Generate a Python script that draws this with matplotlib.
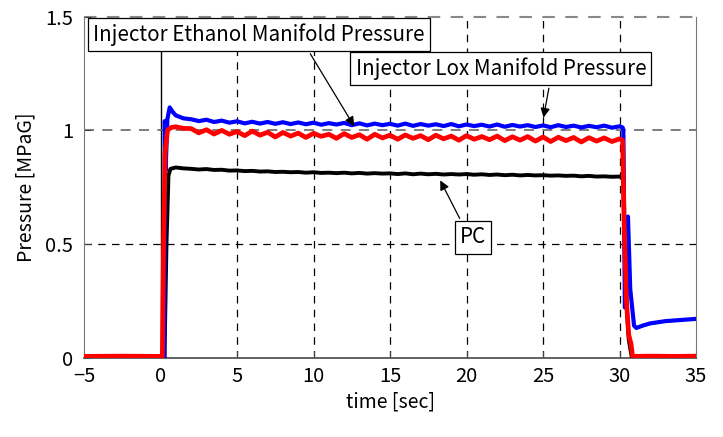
import numpy as np
import matplotlib.pyplot as plt

plt.rcParams['font.family'] = ['Noto Sans CJK JP', 'DejaVu Sans']

# time grid of the steady part (0.5 s sampling)
t_mid = np.arange(2.0, 30.01, 0.5)

# Injector Ethanol Manifold Pressure (blue)
blue_t_start = [-5, -2.5, 0.0, 0.25, 0.28, 0.33, 0.45, 0.6, 0.8, 1.0, 1.5]
blue_start = [0.0, 0.004, 0.0, 0.0, 1.04, 0.82, 1.05, 1.10, 1.08, 1.065, 1.052]
blue_mid = [1.048, 1.040, 1.046, 1.036, 1.042, 1.033, 1.039, 1.030, 1.037, 1.029,
            1.036, 1.028, 1.035, 1.027, 1.034, 1.026, 1.033, 1.024, 1.031, 1.025,
            1.032, 1.022, 1.030, 1.021, 1.029, 1.022, 1.028, 1.020, 1.029, 1.019,
            1.027, 1.020, 1.026, 1.018, 1.027, 1.017, 1.025, 1.018, 1.024, 1.016,
            1.025, 1.015, 1.023, 1.016, 1.022, 1.014, 1.021, 1.013, 1.022, 1.014,
            1.020, 1.012, 1.019, 1.013, 1.020, 1.011, 1.017]
blue_t_end = [30.2, 30.25, 30.35, 30.45, 30.55, 30.7, 30.95, 31.1, 31.5, 32, 33, 34, 35]
blue_end = [1.012, 1.0, 0.22, 0.25, 0.62, 0.30, 0.14, 0.13, 0.14, 0.15, 0.16, 0.165, 0.17]

# Injector Lox Manifold Pressure (red)
red_t_start = [-5, -2.5, 0.0, 0.12, 0.2, 0.3, 0.46, 0.7, 1.0, 1.5]
red_start = [0.005, 0.006, 0.005, 0.005, 0.5, 0.9, 1.0, 1.012, 1.015, 1.008]
red_mid = [1.007, 0.988, 1.002, 0.983, 0.999, 0.982, 0.994, 0.976, 0.996, 0.978,
           0.991, 0.970, 0.990, 0.974, 0.987, 0.968, 0.986, 0.973, 0.982, 0.964,
           0.985, 0.968, 0.980, 0.960, 0.982, 0.966, 0.978, 0.960, 0.979, 0.964,
           0.976, 0.958, 0.978, 0.962, 0.974, 0.956, 0.976, 0.960, 0.972, 0.958,
           0.974, 0.954, 0.971, 0.956, 0.972, 0.952, 0.970, 0.950, 0.969, 0.954,
           0.968, 0.948, 0.967, 0.952, 0.966, 0.950, 0.962]
red_t_end = [30.2, 30.3, 30.45, 30.6, 30.75, 30.85, 32, 33.5, 35]
red_end = [0.955, 0.6, 0.25, 0.1, 0.06, 0.005, 0.006, 0.005, 0.006]

# PC (black)
pc_t_start = [-5, 0.0, 0.26, 0.39, 0.52, 0.65, 1.0, 1.5]
pc_start = [0.0, 0.0, 0.0, 0.5, 0.80, 0.83, 0.836, 0.832]
pc_mid = [0.830, 0.827, 0.829, 0.825, 0.826, 0.822, 0.823, 0.820, 0.821, 0.818,
          0.819, 0.816, 0.817, 0.815, 0.816, 0.813, 0.815, 0.812, 0.813, 0.811,
          0.813, 0.810, 0.812, 0.809, 0.811, 0.809, 0.810, 0.807, 0.810, 0.806,
          0.809, 0.806, 0.808, 0.805, 0.807, 0.805, 0.807, 0.804, 0.806, 0.803,
          0.805, 0.802, 0.804, 0.801, 0.803, 0.801, 0.802, 0.800, 0.801, 0.799,
          0.800, 0.797, 0.799, 0.796, 0.797, 0.795, 0.796]
pc_t_end = [30.25, 30.3, 30.4, 30.6, 30.8, 35]
pc_end = [0.79, 0.6, 0.3, 0.08, 0.0, 0.0]

x_ticks = [-5, 0, 5, 10, 15, 20, 25, 30, 35]
y_ticks = [0, 0.5, 1, 1.5]
y_tick_labels = ['0', '0.5', '1', '1.5']

fig = plt.figure(figsize=(7.23, 4.37), dpi=100)
ax = fig.add_axes([0.1162, 0.1819, 0.8465, 0.7803])

# grid
for xv in x_ticks[2:-1]:
    ax.axvline(xv, color='black', lw=0.9, ls=(0, (6, 5)), zorder=1)
ax.axvline(0, color='black', lw=1.0, zorder=1)
ax.axhline(0.5, color='black', lw=0.9, ls=(0, (6, 5)), zorder=1)
ax.axhline(1.0, color='#666666', lw=1.2, ls=(0, (6, 5)), zorder=1)
ax.axhline(1.5, color='#888888', lw=1.5, ls=(0, (6, 5)), zorder=1, clip_on=False)

ax.plot(pc_t_start + list(t_mid) + pc_t_end, pc_start + pc_mid + pc_end,
        color='black', lw=2.8, zorder=3)
ax.plot(blue_t_start + list(t_mid) + blue_t_end, blue_start + blue_mid + blue_end,
        color='blue', lw=3.0, zorder=4)
ax.plot(red_t_start + list(t_mid) + red_t_end, red_start + red_mid + red_end,
        color='red', lw=3.4, zorder=5)

ax.set_xlim(-5, 35)
ax.set_ylim(0, 1.5)
ax.set_xticks(x_ticks)
ax.set_yticks(y_ticks)
ax.set_yticklabels(y_tick_labels)
ax.tick_params(direction='in', labelsize=14.5, length=5, color='#444444')
ax.tick_params(axis='x', pad=6)
ax.tick_params(axis='y', pad=8)
for s in ['left', 'right', 'bottom']:
    ax.spines[s].set_color('#777777')
ax.spines['bottom'].set_color('#555555')
ax.spines['bottom'].set_linewidth(1.3)
ax.spines['top'].set_visible(False)

ax.set_xlabel('time [sec]', fontsize=14, labelpad=3)
ax.set_ylabel('Pressure [MPaG]', fontsize=14, labelpad=6)

box = dict(boxstyle='square,pad=0.25', fc='white', ec='black', lw=0.9)
arrow = dict(arrowstyle='-|>', color='black', lw=0.9, mutation_scale=14)

ax.annotate('Injector Ethanol Manifold Pressure', xy=(12.75, 1.007), xytext=(6.44, 1.421),
            fontsize=14.8, ha='center', va='center', bbox=box,
            arrowprops=dict(arrow, relpos=(0.64, 0)), zorder=6)
ax.annotate('Injector Lox Manifold Pressure', xy=(25.0, 1.043), xytext=(22.25, 1.271),
            fontsize=14.8, ha='center', va='center', bbox=box,
            arrowprops=dict(arrow, relpos=(0.67, 0)), zorder=6)
ax.annotate('PC', xy=(18.2, 0.79), xytext=(20.42, 0.528),
            fontsize=14.8, ha='center', va='center', bbox=box,
            arrowprops=dict(arrow, relpos=(0.15, 1)), zorder=6)

fig.savefig('out.png', dpi=100)
